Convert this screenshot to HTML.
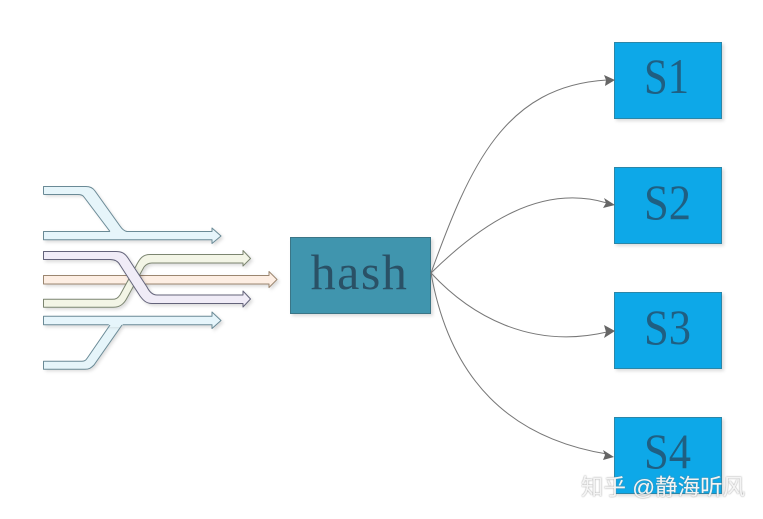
<!DOCTYPE html>
<html>
<head>
<meta charset="utf-8">
<style>
html,body{margin:0;padding:0;background:#fff}
svg{display:block}
</style>
</head>
<body>
<svg width="763" height="519" viewBox="0 0 763 519" xmlns="http://www.w3.org/2000/svg">
<defs>
<filter id="sh" x="-10%" y="-30%" width="125%" height="170%">
<feDropShadow dx="2" dy="2" stdDeviation="1.5" flood-color="#000" flood-opacity="0.14"/>
</filter>
<filter id="soft" x="-5%" y="-5%" width="110%" height="110%">
<feGaussianBlur stdDeviation="0.35"/>
</filter>
<filter id="wm" x="-5%" y="-20%" width="110%" height="140%">
<feDropShadow dx="0" dy="0" stdDeviation="0.7" flood-color="#777" flood-opacity="0.9"/>
</filter>
</defs>

<rect x="0" y="0" width="763" height="519" fill="#fff"/>

<g filter="url(#soft)" stroke-width="1" stroke-linejoin="round">
<!-- top blue feeder, body with shadow -->
<path d="M43.500 186.500H86C90 186.500 93 188 95 191L120 226C122 229 124 231 127 231.500H110L84 197C83 195.500 81 194.500 78 194.500H43.500Z" fill="#e6f5fa" stroke="none" filter="url(#sh)"/>
<!-- top blue arrow -->
<path d="M43.500 231.500H212V228L221 236L212 243.500V239.800H43.500Z" fill="#e6f5fb" stroke="#6a8a96" filter="url(#sh)"/>
<!-- top join patch, no shadow -->
<path d="M110 230H125L127 232.500H110Z" fill="#e6f5fa" stroke="none"/>
<path d="M43.500 194.500V186.500H86C90 186.500 93 188 95 191L120 226C122 229 124 231 127 231.500M110 231.500L84 197C83 195.500 81 194.500 78 194.500H43.500" fill="none" stroke="#6a8a96"/>
<!-- orange arrow -->
<path d="M43.500 275.500H269V271.500L277 279.500L269 287.500V284H43.500Z" fill="#fdeee3" stroke="#9b8670" filter="url(#sh)"/>
<!-- green arrow -->
<path d="M43.500 299.300H112C116 299.300 118 298 120 295L136 266C140 258 143 254.500 150 254.500H243V250.500L250.500 258.500L243 266V263H152C148 263 146 264.500 144 267L127 298C124 304 120 307.300 113 307.300H43.500Z" fill="#f3f5e6" stroke="#7b8570" filter="url(#sh)"/>
<!-- purple arrow -->
<path d="M43.500 251.500H116C122 251.500 125 253.500 128 258L147 287C149 291 152 295 157 295H243V291L250.500 299L243 307V303.500H152C146 303.500 143 300 140 296L120 265C118 261 115 259.500 110 259.500H43.500Z" fill="#f0ecf7" stroke="#63647a" filter="url(#sh)"/>
<!-- bottom blue feeder, body with shadow -->
<path d="M43.500 361.300H82C85 361.300 86 360 88 357L110 324.800H122L94 365C91 368 89 369.300 85 369.300H43.500Z" fill="#e6f5fa" stroke="none" filter="url(#sh)"/>
<!-- bottom blue arrow -->
<path d="M43.500 316.300H212V312L221 320.500L212 328.500V324.800H43.500Z" fill="#e6f5fb" stroke="#6a8a96" filter="url(#sh)"/>
<!-- bottom join patch, no shadow -->
<path d="M109 324H123L121 327H108Z" fill="#e6f5fa" stroke="none"/>
<path d="M110 325L88 357C86 360 85 361.300 82 361.300H43.500V369.300H85C89 369.300 91 368 94 365L122 325" fill="none" stroke="#6a8a96"/>
</g>

<!-- hash box -->
<rect x="290.500" y="237.500" width="140" height="76" fill="#3f95ae" stroke="#3a7486" stroke-width="1" filter="url(#sh)"/>
<text x="359.500" y="289" text-anchor="middle" font-family="'Liberation Serif',serif" font-size="50" letter-spacing="1.500" fill="#2a5166">hash</text>

<!-- connectors -->
<g fill="none" stroke="#777" stroke-width="1">
<path d="M431 273C470 165 505 86 607 80"/>
<path d="M431 273C480 225 540 183 607 203"/>
<path d="M431 273C470 315 530 350 607 332"/>
<path d="M431 273C450 380 510 438 607 454"/>
</g>

<!-- S boxes -->
<g fill="#0ca8e8" stroke="#2b86a8" stroke-width="1" filter="url(#sh)">
<rect x="614.500" y="42.500" width="107" height="76"/>
<rect x="614.500" y="167.500" width="107" height="76"/>
<rect x="614.500" y="292.500" width="107" height="76"/>
<rect x="614.500" y="417.500" width="107" height="76"/>
</g>

<!-- arrowheads -->
<g fill="#666">
<path d="M615 80L604 75L606 80L605 86Z"/>
<path d="M615 205L604 198L606 203L603 208Z"/>
<path d="M615 331L604 325L606 332L604 338Z"/>
<path d="M614 457L603 450L605 455L603 460Z"/>
</g>

<g font-family="'Liberation Serif',serif" font-size="50" fill="#1f5f82">
<text x="644" y="93" textLength="45" lengthAdjust="spacingAndGlyphs">S1</text>
<text x="644" y="219" textLength="47" lengthAdjust="spacingAndGlyphs">S2</text>
<text x="644" y="344" textLength="47" lengthAdjust="spacingAndGlyphs">S3</text>
<text x="644" y="468" textLength="47" lengthAdjust="spacingAndGlyphs">S4</text>
</g>

<text x="581" y="495" font-family="'Liberation Sans','Noto Sans CJK SC',sans-serif" font-size="22.500" fill="#f4f4f4" filter="url(#wm)">知乎 @静海听风</text>
</svg>
</body>
</html>
